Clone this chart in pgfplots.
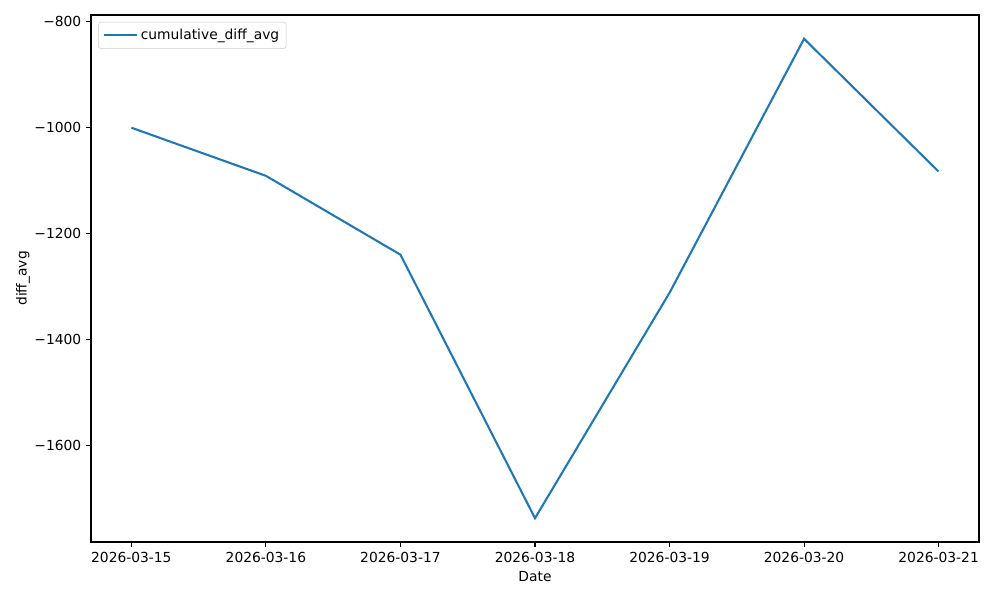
\documentclass[border=0pt]{standalone}
\usepackage{fontspec}
\setmainfont{DejaVu Sans}
\usepackage{pgfplots}
\pgfplotsset{compat=1.18}
\definecolor{mplblue}{HTML}{1F77B4}

\begin{document}
\begin{tikzpicture}
\useasboundingbox (-0.91in,-0.58in) rectangle (9.09in,5.42in);
\begin{axis}[
    at={(0,0)}, anchor=south west,
    scale only axis,
    width=8.88in, height=5.27in,
    xmin=-0.3, xmax=6.3,
    ymin=-1783, ymax=-787,
    xtick={0,1,2,3,4,5,6},
    xticklabels={2026-03-15,2026-03-16,2026-03-17,2026-03-18,2026-03-19,2026-03-20,2026-03-21},
    ytick={-1600,-1400,-1200,-1000,-800},
    yticklabels={−1600,−1400,−1200,−1000,−800},
    tick align=outside,
    major tick length=3.5pt,
    tick style={black, line width=0.8pt},
    xtick pos=bottom, ytick pos=left,
    axis line style={line width=0.8pt},
    ticklabel style={font=\fontsize{10}{12}\selectfont},
    label style={font=\fontsize{10}{12}\selectfont},
    xlabel={Date},
    ylabel={diff\_avg},
    ylabel style={yshift=-0.05in},
    legend style={at={(0.008,0.987)}, anchor=north west, draw=black!20,
        rounded corners=2pt, font=\fontsize{10}{12}\selectfont,
        inner xsep=3pt, inner ysep=3pt},
    legend image code/.code={\draw[#1] (0cm,0cm) -- (0.72cm,0cm);
        \path (0.72cm,0cm) -- (0.85cm,0cm);},
    legend cell align=left,
]
\addplot[color=mplblue, line width=1.5pt] coordinates {
    (0,-1000)
    (1,-1091)
    (2,-1240)
    (3,-1738)
    (4,-1312)
    (5,-832)
    (6,-1083)
};
\addlegendentry{cumulative\_diff\_avg}
\end{axis}
\end{tikzpicture}
\end{document}
